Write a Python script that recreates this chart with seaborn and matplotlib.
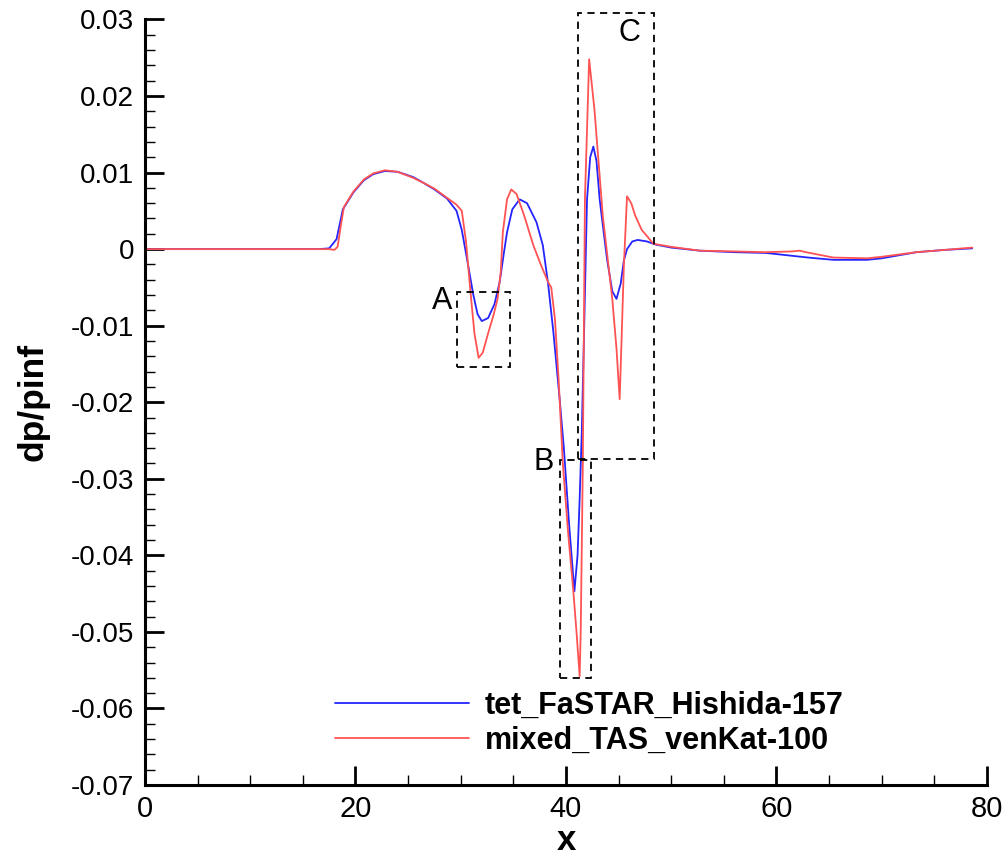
import numpy as np
import pandas as pd
import matplotlib
matplotlib.use("Agg")
import matplotlib.pyplot as plt
import seaborn as sns
from matplotlib.patches import Rectangle
from matplotlib.ticker import MultipleLocator, FuncFormatter
from matplotlib import font_manager

sns.set_theme(style="white")
plt.rcParams['font.family'] = ['Liberation Sans', 'DejaVu Sans']
for k in ["text.color", "axes.labelcolor", "xtick.color", "ytick.color"]:
    plt.rcParams[k] = "black"

series_names = ["tet_FaSTAR_Hishida-157", "mixed_TAS_venKat-100"]

blue_x = [0, 16.5, 17.5, 18.2, 18.8, 19.8, 20.8, 21.7, 22.8, 24, 25.5, 26.4, 27.5, 28.7, 29.6,
          30.1, 30.6, 31.2, 31.6, 32.0, 32.6, 33.2, 33.7, 34.1, 34.4, 34.9, 35.6, 36.3, 37.2,
          37.8, 38.3, 38.8, 39.4, 39.8, 40.3, 40.8, 41.1, 41.3, 41.5, 41.7, 42.0, 42.3, 42.6,
          42.9, 43.2, 43.6, 43.9, 44.4, 44.8, 45.2, 45.5, 45.8, 46.3, 46.8, 47.7, 48.5, 50,
          52.7, 56, 59, 61, 63, 65.4, 68.6, 70, 73.3, 76, 78.6]
blue_y = [0, 0, 0.0001, 0.0013, 0.0052, 0.0074, 0.0090, 0.0098, 0.0102, 0.0101, 0.0094, 0.0087,
          0.0078, 0.0066, 0.0050, 0.0025, -0.0013, -0.0060, -0.0085, -0.0094, -0.0090, -0.0072,
          -0.0043, -0.0005, 0.0022, 0.0052, 0.0065, 0.0060, 0.0035, 0.0005, -0.0045, -0.0108,
          -0.0196, -0.0260, -0.0360, -0.0447, -0.0400, -0.0326, -0.0240, -0.0120, 0.0065, 0.0120,
          0.0134, 0.0115, 0.0065, 0.0020, -0.0013, -0.0055, -0.0065, -0.0045, -0.0015, 0.0,
          0.0010, 0.0012, 0.0010, 0.0006, 0.0002, -0.0002, -0.0004, -0.0005, -0.0008, -0.0011,
          -0.0014, -0.0014, -0.0012, -0.0004, -0.0001, 0.0001]

red_x = [0, 17.5, 18.0, 18.3, 18.6, 18.9, 19.8, 20.8, 21.7, 22.8, 24, 25.5, 26.4, 27.5, 28.7,
         29.6, 30.1, 30.5, 30.9, 31.3, 31.7, 32.1, 32.6, 33.1, 33.5, 33.8, 34.0, 34.4, 34.8,
         35.3, 36.0, 36.9, 37.6, 38.3, 38.6, 38.95, 39.3, 39.7, 40.2, 40.7, 41.0, 41.3, 41.4,
         41.6, 41.8, 42.2, 42.7, 43.5, 44.4, 44.8, 45.1, 45.3, 45.5, 45.8, 46.2, 46.6, 47.2,
         47.7, 48.3, 50, 52.7, 56, 59, 61.5, 62.2, 62.8, 65.4, 68.6, 70, 73.3, 76, 78.6]
red_y = [0, 0, -0.0001, 0.0003, 0.0030, 0.0055, 0.0075, 0.0091, 0.0099, 0.0103, 0.0101, 0.0093,
         0.0087, 0.0079, 0.0067, 0.0058, 0.0050, 0.0010, -0.0052, -0.0110, -0.0142, -0.0135,
         -0.0110, -0.0087, -0.0065, -0.0030, 0.0022, 0.0065, 0.0078, 0.0072, 0.0045, 0.0005,
         -0.0020, -0.0043, -0.0050, -0.0091, -0.0170, -0.0280, -0.0370, -0.0447, -0.0500,
         -0.0558, -0.0500, -0.0280, 0.0065, 0.0248, 0.0183, 0.0043, -0.0065, -0.0130, -0.0196,
         -0.0110, -0.0022, 0.0069, 0.0060, 0.0043, 0.0025, 0.0017, 0.0007, 0.0003, -0.0002,
         -0.0003, -0.0004, -0.0003, -0.0002, -0.0004, -0.0011, -0.0012, -0.0010, -0.0004,
         -0.0001, 0.0002]

# zoom boxes: (label, x0, x1, y0, y1)
box_labels = ["A", "B", "C"]
box_x0 = [29.6, 39.4, 41.1]
box_x1 = [34.7, 42.4, 48.4]
box_y0 = [-0.0154, -0.0560, -0.0274]
box_y1 = [-0.0056, -0.0276, 0.0308]

df = pd.concat([
    pd.DataFrame({"x": blue_x, "y": blue_y, "case": series_names[0]}),
    pd.DataFrame({"x": red_x, "y": red_y, "case": series_names[1]}),
])

fig = plt.figure(figsize=(10.02, 8.57), dpi=100)
ax = fig.add_axes([0.1447, 0.084, 0.8403, 0.8933])

palette = {series_names[0]: "#2424ff", series_names[1]: "#ff5252"}
sns.lineplot(data=df, x="x", y="y", hue="case", palette=palette, estimator=None,
             sort=False, linewidth=1.3, ax=ax)

ax.set_xlim(0, 80)
ax.set_ylim(-0.07, 0.03)
ax.xaxis.set_major_locator(MultipleLocator(20))
ax.xaxis.set_minor_locator(MultipleLocator(5))
ax.yaxis.set_major_locator(MultipleLocator(0.01))
ax.yaxis.set_minor_locator(MultipleLocator(0.002))

def fmt(v, pos):
    if abs(v) < 1e-9:
        return "0"
    return f"{v:.2f}"
def fmtx(v, pos):
    return f"{int(round(v))}"
ax.yaxis.set_major_formatter(FuncFormatter(fmt))
ax.xaxis.set_major_formatter(FuncFormatter(fmtx))

for s in ["top", "right"]:
    ax.spines[s].set_visible(False)
for s in ["left", "bottom"]:
    ax.spines[s].set_color("black")
    ax.spines[s].set_linewidth(2.2)

ax.tick_params(which="major", direction="in", length=14, width=2, colors="black", pad=8)
ax.tick_params(which="minor", direction="in", length=7, width=1, colors="black")
ax.tick_params(axis="x", which="both", bottom=True, top=False)
ax.tick_params(axis="y", which="both", left=True, right=False, labelsize=20)

avail = {f.name for f in font_manager.fontManager.ttflist}
xfam = ['Liberation Sans Narrow', 'Liberation Sans'] if 'Liberation Sans Narrow' in avail else ['Liberation Sans']
for lbl in ax.get_xticklabels():
    lbl.set_fontfamily(xfam)
    lbl.set_fontsize(24 if xfam[0].endswith('Narrow') else 21)
ax.tick_params(axis="x", pad=7)

ax.set_xlabel("x", fontsize=25, fontweight="bold", labelpad=1, family=xfam)
ax.set_ylabel("dp/pinf", fontsize=25.5, fontweight="bold", labelpad=15)

for lab, x0, x1, y0, y1 in zip(box_labels, box_x0, box_x1, box_y0, box_y1):
    r = Rectangle((x0, y0), x1 - x0, y1 - y0, fill=False, edgecolor="black",
                  linestyle=(0, (4, 3)), linewidth=1.3, clip_on=False, zorder=3)
    ax.add_patch(r)

ax.text(box_x0[0] - 0.4, box_y1[0] - 0.0012, "A", fontsize=22, ha="right", va="center")
ax.text(box_x0[1] - 0.6, box_y1[1] - 0.0002, "B", fontsize=22, ha="right", va="center")
ax.text(box_x1[2] - 1.3, box_y1[2] - 0.0026, "C", fontsize=22, ha="right", va="center")

leg = ax.legend(loc="center left", bbox_to_anchor=(0.2257, 0.0804), frameon=False,
                fontsize=22, handlelength=4.4, handletextpad=0.5, labelspacing=0.15,
                borderpad=0, borderaxespad=0)
for t in leg.get_texts():
    t.set_fontweight("bold")

fig.savefig("out.png", dpi=100)
